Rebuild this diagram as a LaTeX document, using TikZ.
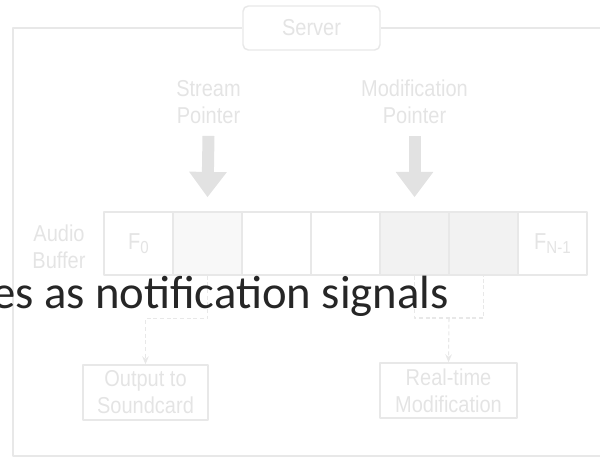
\documentclass[tikz,border=0pt]{standalone}
\usepackage{fontspec}
\newfontfamily\diafont[FakeStretch=0.87]{Liberation Sans}
\newfontfamily\slidefont{Carlito}
\usetikzlibrary{arrows.meta}
\definecolor{faint}{HTML}{E4E4E4}
\definecolor{faintline}{HTML}{E8E8E8}
\definecolor{arrowgray}{HTML}{E2E2E2}
\definecolor{shadeA}{HTML}{F8F8F8}
\definecolor{shadeB}{HTML}{F2F2F2}
\definecolor{slidegray}{HTML}{262626}
\newcommand{\framesub}[1]{\raisebox{-3pt}{\fontsize{13}{13}\selectfont #1}}
\begin{document}
\begin{tikzpicture}[x=0.75pt, y=-0.75pt, font=\diafont\fontsize{17.25}{20.25}\selectfont, line join=round,
	lbl/.style={text=faint, align=center, inner sep=0pt},
	cellbox/.style={draw=faintline, line width=1.1pt, minimum width=51.75pt, minimum height=47.25pt, inner sep=0pt, text=faint},
	outbox/.style={draw=faintline, line width=1.1pt, minimum height=41.25pt, align=center, inner sep=0pt, text=faint},
	dashline/.style={draw=faintline, line width=0.8pt, dash pattern=on 3pt off 2pt},
	bigarrow/.style={draw=arrowgray, line width=9pt, -{Triangle[width=27pt,length=19pt]}},
	>={Stealth[length=6pt,width=5pt]}]
	\useasboundingbox (0,0) rectangle (600,458);
	\clip (0,0) rectangle (600,458);
	
	% Server frame
	\node[draw=faintline, line width=1.1pt, rounded corners=4pt, fill=white, minimum width=102.75pt, minimum height=33pt, text=faint] (server) at (311.5,28) {Server};
	\draw[faintline, line width=1.1pt] (server.west) -- (13,28) -- (13,456) -- (612,456);
	\draw[faintline, line width=1.1pt] (server.east) -- (612,28);
	
	% Audio buffer
	\node[lbl] (ab) at (59,247) {Audio\\Buffer};
	\foreach \i/\shade/\txt in {1/white/{F\framesub{0}}, 2/shadeA/{}, 3/white/{}, 4/white/{}, 5/shadeB/{}, 6/shadeB/{}, 7/white/{F\framesub{N-1}}}
		\node[cellbox, fill=\shade] (c\i) at ({104+69*\i-34.5},243.5) {\txt};
	
	% Pointers
	\node[lbl] (sp) at (208.5,102) {Stream\\Pointer};
	\node[lbl] (mp) at (414.5,102) {Modification\\Pointer};
	\draw[bigarrow] ([yshift=-9pt]sp.south) -- ([yshift=10.5pt]c2.north);
	\draw[bigarrow] ([yshift=-9pt]mp.south) -- ([yshift=10.5pt]c5.north);
	
	% Outputs
	\node[outbox, minimum width=93.75pt] (out) at (145.5,392.5) {Output to\\Soundcard};
	\node[outbox, minimum width=102.75pt] (rt) at (448.5,390.5) {Real-time\\Modification};
	\coordinate (j2) at (449,318);
	\draw[dashline, ->] (c2.south) -- ++(0,43) -| (out.north);
	\draw[dashline] (c5.south) |- (j2) -| (c6.south);
	\draw[dashline, ->] (j2) -- (rt.north);
	
	% Slide text on top
	\node[anchor=base east, inner sep=0pt, text=slidegray, font=\slidefont\fontsize{35}{40}\selectfont] (note) at (449,308) {es as notification signals};
\end{tikzpicture}
\end{document}
